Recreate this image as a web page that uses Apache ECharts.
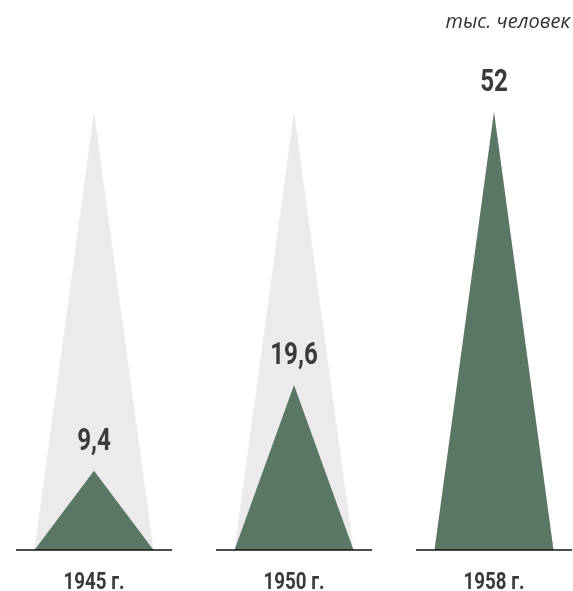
<!DOCTYPE html>
<html>
<head>
<meta charset="utf-8">
<script src="https://cdn.jsdelivr.net/npm/echarts@6/dist/echarts.min.js"></script>
<style>html,body{margin:0;padding:0;background:#fff;}#c{width:573px;height:591px;}</style>
</head>
<body>
<div id="c"></div>
<script>
var categories = ['1945 г.', '1950 г.', '1958 г.'];
var values = [9.4, 19.6, 52];
var maxValues = [52, 52, 52];
var valueLabels = ['9,4', '19,6', '52'];
var unitText = 'тыс. человек';

var chart = echarts.init(document.getElementById('c'));
var labelFont = 'Roboto, "DejaVu Sans", sans-serif';
var squeeze = 0.78;
chart.setOption({
  animation: false,
  backgroundColor: '#ffffff',
  title: {
    text: unitText,
    right: 3,
    top: 12,
    padding: 0,
    textStyle: { fontFamily: '"Open Sans", sans-serif', fontStyle: 'italic', fontWeight: 'normal', fontSize: 20, color: '#333333' }
  },
  grid: { left: -6, width: 600, top: 112, bottom: 41, containLabel: false, outerBoundsMode: 'none' },
  xAxis: {
    type: 'category',
    data: categories,
    axisLine: { show: false },
    axisTick: { show: false },
    axisLabel: { show: false }
  },
  yAxis: { type: 'value', min: 0, max: 52, show: false, splitLine: { show: false } },
  series: [
    {
      type: 'pictorialBar',
      symbol: 'triangle',
      symbolSize: [119, '100%'],
      barGap: '-100%',
      itemStyle: { color: '#ebebeb' },
      data: maxValues,
      z: 1
    },
    {
      type: 'pictorialBar',
      symbol: 'triangle',
      symbolSize: [119, '100%'],
      barGap: '-100%',
      itemStyle: { color: '#5a7763' },
      data: values,
      z: 2
    },
    {
      type: 'custom',
      z: 3,
      data: values.map(function (v, i) { return [i, v]; }),
      renderItem: function (params, api) {
        var i = api.value(0);
        var base = api.coord([i, 0]);
        var top = api.coord([i, api.value(1)]);
        return {
          type: 'group',
          children: [
            {
              type: 'line',
              shape: { x1: base[0] - 78, y1: base[1], x2: base[0] + 78, y2: base[1] },
              style: { stroke: '#111111', lineWidth: 1.5 }
            },
            {
              type: 'text',
              x: top[0], y: top[1] - 29,
              scaleX: squeeze,
              style: { text: valueLabels[i], font: 'bold 31px ' + labelFont, fill: '#3a3a3a', align: 'center', verticalAlign: 'middle' }
            },
            {
              type: 'text',
              x: base[0], y: base[1] + 33,
              scaleX: squeeze,
              style: { text: categories[i], font: 'bold 24px ' + labelFont, fill: '#3a3a3a', align: 'center', verticalAlign: 'middle' }
            }
          ]
        };
      }
    }
  ]
});
</script>
</body>
</html>
